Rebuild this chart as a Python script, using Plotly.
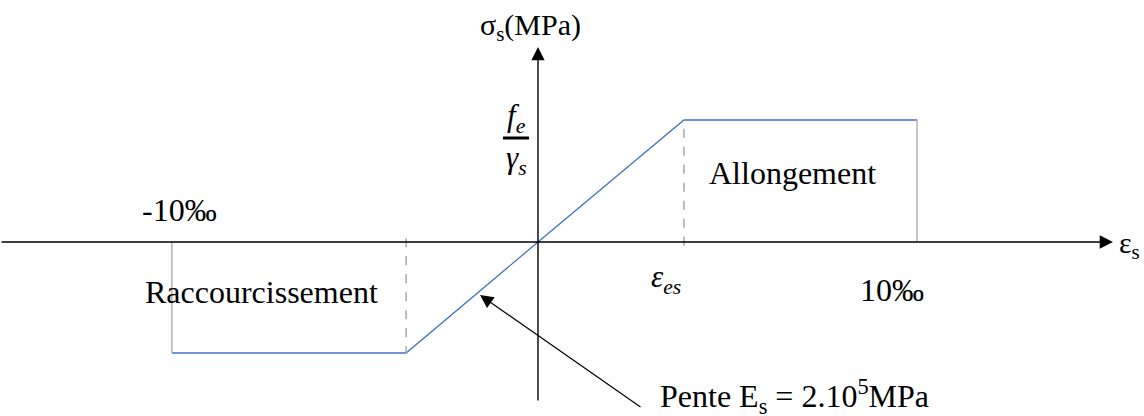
import plotly.graph_objects as go

# strain (per mille) and normalised stress (fe/gamma_s = 1)
strain = [-9.66, -3.48, 0.0, 3.85, 10.0]
stress = [-0.91, -0.91, 0.0, 1.0, 1.0]

W, H = 1144, 416
X0, Y0 = 538, 242          # origin in pixels
SX, SY = 37.9, 122.0       # pixels per unit

_BLUE = "#4472C4"
_GREY = "#A6A6A6"
_SERIF = "Liberation Serif, Times New Roman, serif"


def px(x):
    return (x - X0) / SX


def py(y):
    return (Y0 - y) / SY


fig = go.Figure()

fig.add_trace(go.Scatter(
    x=strain, y=stress, mode="lines",
    line=dict(color=_BLUE, width=1.3), hoverinfo="skip", showlegend=False,
))

# vertical markers: solid at plateau ends, dashed at yield points
fig.add_shape(type="line", x0=strain[0], x1=strain[0], y0=0, y1=stress[0],
              line=dict(color=_GREY, width=1.3))
fig.add_shape(type="line", x0=strain[4], x1=strain[4], y0=0, y1=stress[4],
              line=dict(color=_GREY, width=1.3))
fig.add_shape(type="line", x0=strain[1], x1=strain[1], y0=0.03, y1=stress[1],
              line=dict(color=_GREY, width=1.5, dash="dash"))
fig.add_shape(type="line", x0=strain[3], x1=strain[3], y0=-0.03, y1=stress[3],
              line=dict(color=_GREY, width=1.5, dash="dash"))

# axes with arrow heads
fig.add_annotation(x=px(1113), y=0, ax=px(0), ay=0, xref="x", yref="y", axref="x", ayref="y",
                   showarrow=True, arrowhead=2, arrowsize=1.9, arrowwidth=1.4, arrowcolor="black", text="")
fig.add_annotation(x=0, y=py(47), ax=0, ay=py(402), xref="x", yref="y", axref="x", ayref="y",
                   showarrow=True, arrowhead=2, arrowsize=1.9, arrowwidth=1.4, arrowcolor="black", text="")

# leader arrow for the slope
fig.add_annotation(x=px(480), y=py(295), ax=px(642), ay=py(408), xref="x", yref="y", axref="x", ayref="y",
                   showarrow=True, arrowhead=2, arrowsize=2.2, arrowwidth=1.2, arrowcolor="black", text="")

# fraction bar fe / gamma_s
fig.add_shape(type="line", x0=px(503), x1=px(529), y0=py(138), y1=py(138), line=dict(color="black", width=3))

labels = [
    (530, 27, "σ<sub>s</sub>(MPa)", 30),
    (516, 118, "<i>f<sub>e</sub></i>", 31),
    (516, 160, "<i>γ<sub>s</sub></i>", 31),
    (792, 173, "Allongement", 32),
    (179, 210, "-10‰", 32),
    (261, 292, "Raccourcissement", 32),
    (666, 279, "<i>ε<sub>es</sub></i>", 31),
    (892, 290, "10‰", 32),
    (1129, 245, "ε<sub>s</sub>", 30),
    (794, 396, "Pente E<sub>s</sub> = 2.10<sup>5</sup>MPa", 32),
]
for lx, ly, txt, size in labels:
    fig.add_annotation(x=px(lx), y=py(ly), xref="x", yref="y", text=txt, showarrow=False,
                       font=dict(family=_SERIF, size=size, color="black"),
                       xanchor="center", yanchor="middle")

fig.update_layout(
    width=W, height=H,
    margin=dict(l=0, r=0, t=0, b=0),
    paper_bgcolor="white", plot_bgcolor="white",
    xaxis=dict(range=[px(0), px(W)], visible=False, fixedrange=True),
    yaxis=dict(range=[py(H), py(0)], visible=False, fixedrange=True),
    showlegend=False,
)

fig.write_html("out.html", config={"displayModeBar": False})

# drop the default body margin so the figure sits at the page corner
with open("out.html", encoding="utf-8") as f:
    page = f.read()
page = page.replace("<head>", "<head><style>body{margin:0;overflow:hidden}</style>", 1)
with open("out.html", "w", encoding="utf-8") as f:
    f.write(page)
